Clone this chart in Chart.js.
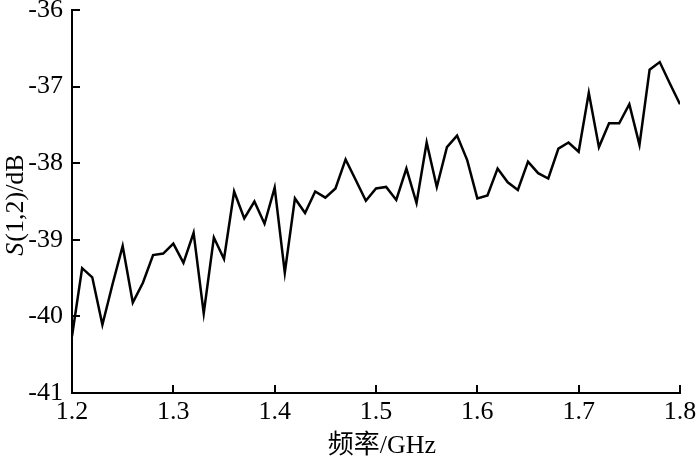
<!DOCTYPE html>
<html>
<head>
<meta charset="utf-8">
<script src="https://cdn.jsdelivr.net/npm/chart.js@4"></script>
<style>
  html, body { margin: 0; padding: 0; background: #fff; }
  #wrap { width: 700px; height: 467px; }
</style>
</head>
<body>
<div id="wrap"><canvas id="s12Chart"></canvas></div>
<script>
// frequency points (GHz)
const freqs = [
  1.20, 1.21, 1.22, 1.23, 1.24, 1.25, 1.26, 1.27, 1.28, 1.29,
  1.30, 1.31, 1.32, 1.33, 1.34, 1.35, 1.36, 1.37, 1.38, 1.39,
  1.40, 1.41, 1.42, 1.43, 1.44, 1.45, 1.46, 1.47, 1.48, 1.49,
  1.50, 1.51, 1.52, 1.53, 1.54, 1.55, 1.56, 1.57, 1.58, 1.59,
  1.60, 1.61, 1.62, 1.63, 1.64, 1.65, 1.66, 1.67, 1.68, 1.69,
  1.70, 1.71, 1.72, 1.73, 1.74, 1.75, 1.76, 1.77, 1.78, 1.79,
  1.80
];

// S(1,2) in dB
const s12 = [
  -40.26, -39.37, -39.49, -40.11, -39.58, -39.08, -39.82, -39.56, -39.20, -39.18,
  -39.05, -39.30, -38.91, -39.96, -38.97, -39.25, -38.37, -38.72, -38.50, -38.79,
  -38.32, -39.43, -38.46, -38.65, -38.37, -38.45, -38.33, -37.95, -38.22, -38.49,
  -38.33, -38.31, -38.48, -38.07, -38.52, -37.73, -38.31, -37.79, -37.64, -37.96,
  -38.46, -38.42, -38.07, -38.25, -38.35, -37.98, -38.13, -38.20, -37.81, -37.73,
  -37.85, -37.08, -37.79, -37.48, -37.48, -37.23, -37.76, -36.78, -36.68, -36.96,
  -37.23
];

const xTicks = ["1.2", "1.3", "1.4", "1.5", "1.6", "1.7", "1.8"];
const yTicks = [-41, -40, -39, -38, -37, -36];

const serif = "'Liberation Serif', 'Times New Roman', serif";

// inward tick marks + axis titles (S in italic)
const decor = {
  id: "decor",
  afterDraw(chart) {
    const ctx = chart.ctx;
    const area = chart.chartArea;
    const xs = chart.scales.x, ys = chart.scales.y;
    ctx.save();
    ctx.strokeStyle = "#000";
    ctx.lineWidth = 2;
    ys.ticks.forEach(t => {
      const py = Math.round(ys.getPixelForValue(t.value));
      ctx.beginPath();
      ctx.moveTo(area.left, py);
      ctx.lineTo(area.left + 8, py);
      ctx.stroke();
    });
    xs.ticks.forEach(t => {
      const px = Math.round(xs.getPixelForValue(t.value));
      ctx.beginPath();
      ctx.moveTo(px, area.bottom);
      ctx.lineTo(px, area.bottom - 8);
      ctx.stroke();
    });

    // x title
    ctx.fillStyle = "#000";
    ctx.font = "26px " + serif + ", 'Noto Sans CJK SC'";
    ctx.textAlign = "center";
    ctx.textBaseline = "middle";
    ctx.fillText("频率/GHz", (area.left + area.right) / 2 + 6, 446);

    // y title, rotated
    ctx.translate(16, (area.top + area.bottom) / 2 + 4);
    ctx.rotate(-Math.PI / 2);
    ctx.textBaseline = "middle";
    ctx.textAlign = "left";
    const italic = "italic 26px " + serif;
    const normal = "26px " + serif;
    ctx.font = italic;
    const w1 = ctx.measureText("S").width;
    ctx.font = normal;
    const w2 = ctx.measureText("(1,2)/dB").width;
    let x0 = -(w1 + w2) / 2;
    ctx.font = italic;
    ctx.fillText("S", x0, 0);
    ctx.font = normal;
    ctx.fillText("(1,2)/dB", x0 + w1 + 1, 0);
    ctx.restore();
  }
};

const s12Chart = new Chart(document.getElementById("s12Chart"), {
  type: "line",
  data: {
    datasets: [{
      data: freqs.map((f, i) => ({ x: f, y: s12[i] })),
      borderColor: "#000",
      borderWidth: 2.5,
      pointRadius: 0,
      tension: 0,
      fill: false
    }]
  },
  options: {
    responsive: true,
    maintainAspectRatio: false,
    animation: false,
    layout: { padding: { top: 10, right: 20, left: 0, bottom: 0 } },
    plugins: {
      legend: { display: false },
      tooltip: { enabled: false }
    },
    scales: {
      x: {
        type: "linear",
        min: 1.2,
        max: 1.8,
        afterFit: s => {
          s.height = 74;
          s.paddingLeft = 0; s.paddingRight = 0;
        },
        afterBuildTicks: s => { s.ticks = xTicks.map(v => ({ value: +v })); },
        ticks: {
          color: "#000",
          padding: 4,
          maxRotation: 0,
          font: { family: serif, size: 26 },
          callback: (v) => xTicks.find(t => Math.abs(+t - v) < 1e-6) || ""
        },
        grid: { display: true, drawOnChartArea: false, drawTicks: false },
        border: { display: true, color: "#000", width: 2 }
      },
      y: {
        min: -41,
        max: -36,
        afterFit: s => {
          s.width = 72;
          s.paddingTop = 0; s.paddingBottom = 0;
        },
        afterBuildTicks: s => { s.ticks = yTicks.map(v => ({ value: v })); },
        ticks: {
          color: "#000",
          padding: 9,
          font: { family: serif, size: 26 },
          callback: v => String(v)
        },
        grid: { display: true, drawOnChartArea: false, drawTicks: false },
        border: { display: true, color: "#000", width: 2 }
      }
    }
  },
  plugins: [decor]
});
</script>
</body>
</html>
